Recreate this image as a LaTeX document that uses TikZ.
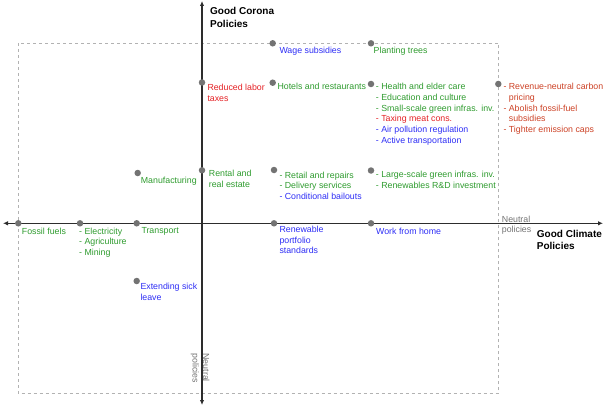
\documentclass[tikz,border=0pt]{standalone}
\usepackage{fontspec}
\setmainfont{Liberation Sans}
\usetikzlibrary{arrows.meta}

\definecolor{polgreen}{RGB}{46,155,46}
\definecolor{polblue}{RGB}{45,45,245}
\definecolor{polred}{RGB}{228,32,36}
\definecolor{polrust}{RGB}{204,65,37}
\definecolor{dotgray}{RGB}{115,115,115}
\definecolor{boxgray}{RGB}{178,178,178}
\definecolor{axisgray}{RGB}{45,45,45}

\begin{document}
\begin{tikzpicture}[x=1pt, y=-1pt, >={Latex[length=5pt,width=4.5pt]},
    dot/.style={circle, fill=dotgray, inner sep=0pt, minimum size=6.5pt},
    lbl/.style={anchor=north west, inner sep=0pt, align=left, font=\fontsize{8.8}{10.67}\selectfont},
    heading/.style={anchor=north west, inner sep=0pt, align=left, font=\fontsize{10}{12.5}\selectfont\bfseries}]
    \useasboundingbox (0,0) rectangle (604,406);

    \def\AxX{202}     % x of vertical axis
    \def\AxY{223.3}   % y of horizontal axis

    \coordinate (L) at (3,\AxY);
    \coordinate (R) at (603,\AxY);
    \coordinate (T) at (\AxX,1);
    \coordinate (B) at (\AxX,405);

    % neutral frame
    \draw[boxgray, line width=0.9pt, dash pattern=on 3pt off 3pt] (18,43) rectangle (498.3,393.5);

    \draw[<->, axisgray, line width=1.2pt] (L) -- (R);
    \draw[<->, axisgray, line width=1.2pt] (T) -- (B);

    \foreach \name/\x/\y in {wage/272.7/43.3, trees/371/43.3, labor/202/82.5, hotels/272.7/82.7,
        health/371/84, carbon/498.3/84, manuf/137.7/173, rental/202/170.3, retail/274/170,
        largescale/371/170.5, fossil/18.3/223.3, electricity/80/223.3, transport/136.7/223.3,
        portfolio/274/223.3, home/371/223.3, sick/136.7/281} {
      \node[dot] (\name) at (\x,\y) {};
    }

    \node[heading] (corona) at (210,7.3) {Good Corona\\Policies};
    \node[heading] (climate) at (536.7,230) {Good Climate\\Policies};

    \node[lbl, polblue] (wageL) at (279.3,46.5) {Wage subsidies};
    \node[lbl, polgreen] (treesL) at (373.5,46.8) {Planting trees};
    \node[lbl, polred] (laborL) at (207.3,84.4) {Reduced labor\\taxes};
    \node[lbl, polgreen] (hotelsL) at (277.3,83.2) {Hotels and restaurants};
    \node[lbl, polgreen] (healthL) at (375.7,83.3) {- Health and elder care\\
      - Education and culture\\
      - Small-scale green infras. inv.\\
      \textcolor{polred}{- Taxing meat cons.}\\
      \textcolor{polblue}{- Air pollution regulation}\\
      \textcolor{polblue}{- Active transportation}};
    \node[lbl, polrust] (carbonL) at (503.3,83.3) {- Revenue-neutral carbon\\
      \phantom{- }pricing\\
      - Abolish fossil-fuel\\
      \phantom{- }subsidies\\
      - Tighter emission caps};
    \node[lbl, polgreen] (manufL) at (140.7,177) {Manufacturing};
    \node[lbl, polgreen] (rentalL) at (208.7,170) {Rental and\\real estate};
    \node[lbl, polgreen] (retailL) at (279.3,171.5) {- Retail and repairs\\
      - Delivery services\\
      \textcolor{polblue}{- Conditional bailouts}};
    \node[lbl, polgreen] (largescaleL) at (375.7,170.9) {- Large-scale green infras. inv.\\
      - Renewables R\&D investment};
    \node[lbl, polgreen] (fossilL) at (21.7,227.7) {Fossil fuels};
    \node[lbl, polgreen] (electricityL) at (79,227.7) {- Electricity\\- Agriculture\\- Mining};
    \node[lbl, polgreen] (transportL) at (141.3,227.7) {Transport};
    \node[lbl, polblue] (portfolioL) at (279.3,226) {Renewable\\portfolio\\standards};
    \node[lbl, polblue] (homeL) at (376,227.7) {Work from home};
    \node[lbl, polblue] (sickL) at (140.3,283.3) {Extending sick\\leave};

    \node[lbl, dotgray] (neutralH) at (501.7,215.7) {Neutral\\policies};
    \node[lbl, dotgray, rotate=-90] (neutralV) at (209.8,353.3) {Neutral\\policies};
\end{tikzpicture}
\end{document}
